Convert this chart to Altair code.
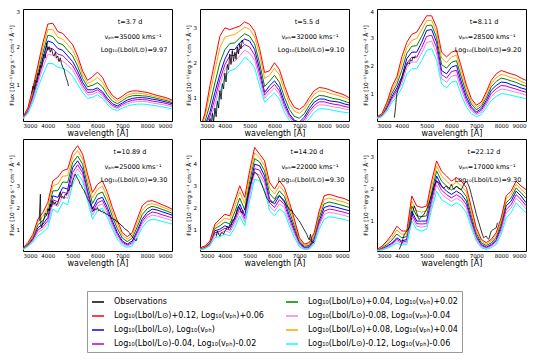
import altair as alt
import pandas as pd

WAVE = [3000, 3200, 3400, 3600, 3800, 4000, 4200, 4400, 4600, 4800, 5000, 5200, 5400, 5600, 5800,
        6000, 6200, 6400, 6600, 6800, 7000, 7200, 7400, 7600, 7800, 8000, 8200, 8400, 8600, 8800, 9000]

# ---- Panel 1: t=3.7 d
P1_BASE = [0.10,0.30,0.70,1.20,1.70,2.15,2.10,1.95,1.90,1.75,1.60,1.35,1.05,0.85,0.85,0.90,0.80,0.62,0.48,0.42,0.50,0.58,0.62,0.64,0.64,0.63,0.60,0.58,0.55,0.52,0.48]
P1_P04 = [0.11,0.33,0.77,1.30,1.83,2.30,2.27,2.10,2.05,1.90,1.75,1.48,1.15,0.93,0.97,1.04,0.93,0.71,0.55,0.48,0.56,0.65,0.69,0.70,0.69,0.68,0.65,0.62,0.59,0.56,0.51]
P1_P08 = [0.11,0.35,0.83,1.40,1.97,2.45,2.45,2.25,2.20,2.05,1.90,1.62,1.25,1.02,1.08,1.18,1.05,0.81,0.63,0.54,0.62,0.71,0.75,0.76,0.75,0.73,0.69,0.66,0.63,0.59,0.55]
P1_P12 = [0.12,0.38,0.90,1.50,2.10,2.60,2.62,2.40,2.35,2.20,2.05,1.75,1.35,1.10,1.20,1.32,1.18,0.90,0.70,0.60,0.68,0.78,0.82,0.82,0.80,0.78,0.74,0.70,0.67,0.63,0.58]
P1_M04 = [0.09,0.28,0.65,1.11,1.57,1.97,1.94,1.80,1.76,1.63,1.49,1.25,0.97,0.78,0.79,0.85,0.75,0.57,0.44,0.38,0.46,0.53,0.57,0.59,0.59,0.58,0.55,0.53,0.51,0.48,0.44]
P1_M08 = [0.09,0.25,0.59,1.02,1.43,1.79,1.77,1.65,1.61,1.51,1.37,1.14,0.89,0.71,0.73,0.79,0.69,0.52,0.40,0.35,0.42,0.48,0.52,0.54,0.54,0.53,0.50,0.48,0.46,0.43,0.40]
P1_M12 = [0.08,0.22,0.52,0.90,1.25,1.55,1.55,1.45,1.42,1.35,1.22,1.00,0.78,0.62,0.65,0.72,0.62,0.46,0.34,0.30,0.36,0.42,0.45,0.47,0.47,0.46,0.44,0.42,0.40,0.37,0.34]
OBS1_W = [3350,3400,3450,3500,3550,3600,3650,3700,3750,3800,3850,3900,3950,4000,4050,4100,4150,4200,4250,4300,4350,4400,4450,4500,4550,4600,4650,4700,4750,4800,4830]
OBS1_F = [0.75,0.95,0.85,1.10,1.05,1.30,1.25,1.50,1.45,1.65,1.80,1.70,2.10,1.90,2.00,1.85,1.95,1.80,1.75,1.85,1.70,1.75,1.60,1.70,1.55,1.45,1.40,1.25,1.15,1.05,0.95]

# ---- Panel 2: t=5.5 d
P2_BASE = [0.05,0.20,0.58,1.15,1.67,2.10,2.38,2.38,2.57,2.68,2.62,2.38,1.82,1.15,1.34,1.48,1.29,0.87,0.53,0.35,0.30,0.44,0.68,0.87,0.96,0.96,0.91,0.89,0.87,0.82,0.79]
P2_P04 = [0.07,0.31,0.81,1.42,2.00,2.37,2.55,2.57,2.71,2.83,2.76,2.54,1.99,1.32,1.47,1.64,1.44,1.01,0.66,0.46,0.41,0.54,0.78,0.97,1.06,1.05,1.01,0.97,0.95,0.90,0.85]
P2_P08 = [0.09,0.45,1.11,1.78,2.43,2.73,2.78,2.81,2.91,3.02,2.96,2.74,2.23,1.55,1.64,1.84,1.65,1.21,0.83,0.61,0.55,0.67,0.90,1.10,1.19,1.18,1.13,1.09,1.05,1.00,0.94]
P2_P12 = [0.10,0.55,1.34,2.05,2.76,3.00,2.95,3.00,3.05,3.17,3.10,2.90,2.40,1.72,1.77,2.00,1.80,1.35,0.96,0.72,0.66,0.77,1.00,1.20,1.29,1.27,1.23,1.17,1.13,1.08,1.00]
P2_M04 = [0.04,0.17,0.47,0.97,1.51,1.94,2.20,2.21,2.39,2.52,2.45,2.22,1.68,1.07,1.24,1.38,1.19,0.78,0.48,0.31,0.26,0.37,0.60,0.78,0.88,0.88,0.84,0.81,0.79,0.75,0.72]
P2_M08 = [0.03,0.14,0.35,0.79,1.36,1.79,2.01,2.04,2.20,2.36,2.28,2.07,1.53,0.98,1.14,1.27,1.09,0.70,0.42,0.26,0.21,0.31,0.51,0.70,0.79,0.79,0.76,0.73,0.71,0.68,0.65]
P2_M12 = [0.02,0.10,0.20,0.55,1.15,1.58,1.77,1.82,1.96,2.15,2.05,1.86,1.34,0.87,1.00,1.13,0.96,0.58,0.35,0.20,0.15,0.22,0.40,0.58,0.68,0.68,0.66,0.63,0.60,0.58,0.56]
OBS2_W = [3350,3400,3450,3500,3550,3600,3650,3700,3750,3800,3850,3900,3950,4000,4050,4100,4150,4200,4250,4300,4350,4400,4450,4500,4550,4600,4650,4700,4750]
OBS2_F = [0.15,0.40,0.20,0.55,0.30,0.70,0.45,0.90,0.70,1.20,0.95,1.40,1.25,1.70,1.45,1.95,1.80,2.25,1.95,2.35,2.05,2.30,2.10,2.45,2.25,2.55,2.40,2.65,2.55]

# ---- Panel 3: t=8.11 d
P3_BASE = [0.15,0.22,0.50,0.90,1.20,1.60,2.24,2.47,2.47,2.82,3.24,3.27,2.82,1.82,1.70,1.94,2.00,1.41,0.88,0.53,0.35,0.47,0.76,1.12,1.29,1.41,1.39,1.32,1.27,1.20,1.15]
P3_P04 = [0.16,0.24,0.57,1.01,1.33,1.83,2.43,2.68,2.70,3.03,3.41,3.43,2.99,2.03,1.90,2.11,2.17,1.58,1.02,0.63,0.43,0.55,0.86,1.24,1.43,1.55,1.51,1.45,1.40,1.32,1.26]
P3_P08 = [0.17,0.27,0.63,1.13,1.47,2.07,2.63,2.89,2.95,3.26,3.59,3.60,3.17,2.26,2.10,2.30,2.36,1.77,1.16,0.72,0.51,0.62,0.96,1.35,1.56,1.68,1.64,1.57,1.52,1.43,1.36]
P3_P12 = [0.18,0.29,0.70,1.24,1.60,2.30,2.82,3.10,3.18,3.47,3.76,3.76,3.35,2.47,2.30,2.47,2.53,1.94,1.30,0.82,0.59,0.70,1.06,1.47,1.70,1.82,1.76,1.70,1.65,1.55,1.47]
P3_M04 = [0.14,0.21,0.46,0.83,1.11,1.48,2.08,2.29,2.29,2.63,3.03,3.07,2.63,1.68,1.55,1.78,1.83,1.27,0.78,0.46,0.30,0.41,0.68,1.01,1.17,1.29,1.27,1.21,1.16,1.10,1.05]
P3_M08 = [0.13,0.20,0.43,0.77,1.02,1.36,1.92,2.12,2.12,2.44,2.81,2.86,2.44,1.54,1.40,1.62,1.66,1.13,0.67,0.39,0.25,0.34,0.60,0.90,1.06,1.16,1.14,1.09,1.05,1.00,0.95]
P3_M12 = [0.12,0.18,0.38,0.68,0.90,1.20,1.70,1.88,1.88,2.18,2.53,2.59,2.18,1.35,1.20,1.41,1.44,0.94,0.53,0.29,0.18,0.26,0.50,0.76,0.90,1.00,0.98,0.94,0.90,0.86,0.82]
OBS3_W = [3700,3725,3750,3775,3800,3850,3900,3950,4000,4050,4100,4150,4200,4250,4300,4350,4400,4450,4500,4550]
OBS3_F = [0.15,0.35,0.55,0.80,1.00,1.15,1.25,1.40,1.55,1.70,1.80,1.95,2.00,2.10,2.05,2.20,2.15,2.30,2.25,2.35]

# ---- Panel 4: t=10.89 d
P4_BASE = [0.15,0.32,0.60,1.10,1.25,1.55,2.53,2.46,2.90,2.83,3.80,4.10,3.73,2.75,1.93,2.38,2.46,2.00,1.40,0.88,0.50,0.36,0.50,0.96,1.48,1.78,1.93,1.89,1.81,1.74,1.66]
P4_P04 = [0.16,0.36,0.67,1.23,1.42,1.77,2.75,2.76,3.15,3.13,4.02,4.32,3.95,3.00,2.18,2.60,2.70,2.22,1.60,1.05,0.63,0.47,0.63,1.13,1.68,1.95,2.06,2.00,1.92,1.84,1.75]
P4_P08 = [0.17,0.39,0.73,1.35,1.60,2.01,2.98,3.06,3.41,3.43,4.26,4.56,4.18,3.25,2.43,2.83,2.96,2.46,1.80,1.23,0.75,0.58,0.75,1.31,1.88,2.12,2.18,2.12,2.02,1.94,1.84]
P4_P12 = [0.18,0.43,0.80,1.48,1.78,2.23,3.20,3.36,3.66,3.73,4.48,4.78,4.40,3.50,2.68,3.05,3.20,2.68,2.00,1.40,0.88,0.69,0.88,1.48,2.08,2.28,2.31,2.23,2.13,2.04,1.93]
P4_M04 = [0.14,0.30,0.56,0.99,1.14,1.42,2.35,2.26,2.70,2.62,3.58,3.92,3.57,2.62,1.80,2.22,2.32,1.87,1.29,0.79,0.44,0.32,0.43,0.87,1.37,1.66,1.80,1.76,1.68,1.61,1.54]
P4_M08 = [0.13,0.28,0.51,0.88,1.03,1.28,2.17,2.05,2.50,2.41,3.35,3.74,3.41,2.48,1.66,2.07,2.17,1.73,1.18,0.70,0.39,0.27,0.37,0.78,1.25,1.54,1.66,1.62,1.55,1.49,1.42]
P4_M12 = [0.12,0.25,0.45,0.73,0.88,1.10,1.93,1.78,2.23,2.13,3.05,3.50,3.20,2.30,1.48,1.86,1.98,1.55,1.03,0.58,0.31,0.21,0.28,0.66,1.10,1.38,1.48,1.44,1.38,1.32,1.26]
OBS4_W = [3650,3700,3720,3750,3800,3850,3900,3950,4000,4050,4100,4150,4200,4250,4300,4350,4400,4450,4500,4550,4600,4650,4700,4750,4800,4850,4900,4950,5000,5050,5100,5150,5200,5250,5300,5350,5400,5450,5500,5550,5600,5650,5700,5750,5800,5850,5900,5950,6000,6050,6100,6150,6200,6250,6300,6350,6400,6450,6500,6550,6600,6650,6700,6750,6800,6850,6900,6950,7000,7050,7100,7150,7200,7250,7300,7350,7400,7450,7500,7550,7600]
OBS4_F = [1.40,2.60,1.20,1.10,1.35,1.50,1.75,1.65,1.95,1.85,2.15,2.05,2.30,2.15,2.25,2.10,2.20,2.40,2.70,2.45,2.50,2.40,2.60,2.55,2.80,2.75,3.00,2.95,3.20,3.35,3.50,3.40,3.30,3.20,3.05,3.00,2.85,2.80,2.65,2.55,2.40,2.30,2.20,2.05,2.00,1.85,1.95,1.90,2.00,1.85,1.90,1.80,1.85,1.75,1.78,1.70,1.72,1.62,1.65,1.55,1.52,1.45,1.48,1.38,1.40,1.30,1.28,1.20,1.18,1.10,1.05,1.00,0.98,0.90,0.85,0.75,0.70,0.60,0.58,0.50,0.62]

# ---- Panel 5: t=14.20 d
P5_BASE = [0.13,0.20,0.38,0.96,1.03,1.18,1.10,1.56,2.16,1.63,2.90,3.95,3.88,3.43,2.38,2.16,2.53,2.30,1.63,1.03,0.43,0.21,0.24,0.58,1.40,2.00,2.08,2.04,1.98,1.92,1.86]
P5_P04 = [0.15,0.23,0.42,1.06,1.18,1.35,1.27,1.80,2.43,1.90,3.15,4.20,4.05,3.65,2.63,2.38,2.75,2.50,1.83,1.18,0.51,0.26,0.30,0.68,1.55,2.17,2.25,2.20,2.14,2.08,2.01]
P5_P08 = [0.16,0.25,0.46,1.16,1.33,1.53,1.46,2.06,2.71,2.19,3.41,4.45,4.23,3.88,2.88,2.61,2.98,2.70,2.03,1.33,0.58,0.31,0.37,0.78,1.70,2.36,2.43,2.37,2.30,2.25,2.15]
P5_P12 = [0.18,0.28,0.50,1.26,1.48,1.70,1.63,2.30,2.98,2.46,3.66,4.70,4.40,4.10,3.13,2.83,3.20,2.90,2.23,1.48,0.66,0.36,0.43,0.88,1.85,2.53,2.60,2.53,2.46,2.41,2.30]
P5_M04 = [0.12,0.19,0.35,0.87,0.93,1.07,0.99,1.42,2.00,1.50,2.72,3.75,3.68,3.25,2.22,2.00,2.35,2.14,1.50,0.92,0.37,0.18,0.21,0.51,1.29,1.84,1.93,1.90,1.84,1.79,1.72]
P5_M08 = [0.11,0.17,0.32,0.78,0.83,0.96,0.88,1.28,1.84,1.36,2.54,3.55,3.47,3.07,2.06,1.84,2.17,1.99,1.36,0.81,0.32,0.16,0.17,0.45,1.18,1.69,1.79,1.75,1.70,1.65,1.58]
P5_M12 = [0.10,0.15,0.28,0.66,0.69,0.81,0.73,1.10,1.63,1.18,2.30,3.28,3.20,2.83,1.85,1.63,1.93,1.78,1.18,0.66,0.24,0.12,0.13,0.36,1.03,1.48,1.59,1.56,1.51,1.47,1.40]
OBS5_W = [3650,3700,3750,3800,3850,3900,3950,4000,4050,4100,4150,4200,4250,4300,4350,4400,4450,4500,4550,4600,4650,4700,4750,4800,4850,4900,4950,5000,5050,5100,5150,5200,5250,5300,5350,5400,5450,5500,5550,5600,5650,5700,5750,5800,5850,5900,5950,6000,6050,6100,6150,6200,6250,6300,6350,6400,6450,6500,6550,6600,6650,6700,6750,6800,6850,6900,6950,7000,7050,7100,7150,7200,7250,7300,7350,7400,7450,7500,7550,7600]
OBS5_F = [0.70,0.95,0.80,0.72,0.85,0.88,0.80,0.95,1.00,1.15,1.05,1.25,1.20,1.45,1.40,1.55,1.70,1.95,2.05,1.95,1.80,1.75,1.85,1.90,2.10,2.40,2.65,2.90,3.10,3.30,3.45,3.60,3.55,3.50,3.40,3.30,3.15,3.00,2.85,2.70,2.55,2.40,2.35,2.25,2.30,2.20,2.25,2.30,2.40,2.45,2.50,2.55,2.45,2.40,2.30,2.25,2.15,2.10,2.00,1.95,1.85,1.90,1.75,1.70,1.60,1.55,1.45,1.40,1.30,1.20,1.10,1.00,0.90,0.80,0.65,0.55,0.80,0.45,0.40,0.48]

# ---- Panel 6: t=22.12 d
P6_BASE = [0.07,0.12,0.20,0.30,0.46,0.36,0.41,1.29,0.98,0.98,0.98,1.70,2.38,2.07,1.91,1.81,1.91,1.81,1.60,1.03,0.51,0.25,0.17,0.25,0.41,0.82,1.45,1.60,1.91,1.76,1.55]
P6_P04 = [0.08,0.15,0.25,0.39,0.58,0.46,0.50,1.45,1.14,1.12,1.14,1.87,2.54,2.22,2.07,1.95,2.05,1.95,1.74,1.15,0.60,0.30,0.22,0.30,0.48,0.91,1.55,1.70,2.01,1.86,1.69]
P6_P08 = [0.09,0.17,0.31,0.47,0.70,0.57,0.58,1.60,1.29,1.26,1.29,2.05,2.69,2.38,2.22,2.08,2.19,2.08,1.88,1.28,0.68,0.36,0.26,0.36,0.55,0.99,1.66,1.81,2.12,1.97,1.82]
P6_P12 = [0.10,0.20,0.36,0.56,0.82,0.67,0.67,1.76,1.45,1.40,1.45,2.22,2.85,2.53,2.38,2.22,2.33,2.22,2.02,1.40,0.77,0.41,0.31,0.41,0.62,1.08,1.76,1.91,2.22,2.07,1.96]
P6_M04 = [0.06,0.11,0.18,0.27,0.41,0.32,0.36,1.20,0.90,0.89,0.90,1.59,2.24,1.94,1.80,1.70,1.80,1.70,1.49,0.95,0.47,0.22,0.15,0.22,0.36,0.74,1.34,1.49,1.80,1.65,1.46]
P6_M08 = [0.06,0.10,0.16,0.24,0.36,0.28,0.31,1.10,0.82,0.79,0.82,1.48,2.10,1.82,1.69,1.59,1.69,1.59,1.38,0.87,0.42,0.19,0.13,0.19,0.31,0.66,1.23,1.38,1.69,1.54,1.36]
P6_M12 = [0.05,0.08,0.13,0.20,0.30,0.23,0.25,0.98,0.72,0.67,0.72,1.34,1.91,1.65,1.55,1.45,1.55,1.45,1.24,0.77,0.36,0.15,0.10,0.15,0.25,0.56,1.08,1.24,1.55,1.39,1.24]
OBS6_W = [3900,3950,4000,4050,4100,4150,4200,4250,4300,4350,4400,4450,4500,4550,4600,4650,4700,4750,4800,4850,4900,4950,5000,5050,5100,5150,5200,5250,5300,5350,5400,5450,5500,5550,5600,5650,5700,5750,5800,5850,5900,5950,6000,6050,6100,6150,6200,6250,6300,6350,6400,6450,6500,6550,6600,6650,6700,6750,6800,6850,6900,6950,7000,7050,7100,7150,7200,7250,7300,7350,7400,7450,7500,7550,7600,7650,7700,7750,7800,7850]
OBS6_F = [0.10,0.20,0.30,0.45,0.56,0.62,0.67,0.72,0.77,0.90,1.08,1.30,1.45,1.35,1.24,1.10,1.03,1.08,1.13,1.15,1.20,1.28,1.34,1.45,1.55,1.68,1.80,1.95,2.07,2.15,2.22,2.20,2.17,2.10,2.07,2.02,2.00,2.05,2.07,2.00,1.96,2.05,2.12,2.02,1.96,2.02,2.07,2.03,2.00,1.97,1.96,2.05,2.12,2.18,2.22,2.15,2.07,1.95,1.80,1.65,1.50,1.35,1.19,1.05,0.93,0.80,0.67,0.55,0.46,0.50,0.51,0.45,0.41,0.55,0.67,0.70,0.72,0.75,0.77,0.93]

TIMES = ["t=3.7 d", "t=5.5 d", "t=8.11 d", "t=10.89 d", "t=14.20 d", "t=22.12 d"]
VPH = [35000, 32000, 28500, 25000, 22000, 17000]
LBOL = ["9.97", "9.10", "9.20", "9.30", "9.30", "9.30"]
YDOM = [[0.02, 3.0], [0.33, 3.54], [0.03, 4.0], [0.05, 5.08], [0.05, 5.08], [0.05, 3.53]]
YTICKS = [[1, 2, 3], [1, 2, 3], [1, 2, 3, 4], [1, 2, 3, 4], [1, 2, 3, 4], [1, 2, 3]]
XTICKS = [3000, 4000, 5000, 6000, 7000, 8000, 9000]

LOGL = "Log\u2081\u2080(Lbol/L\u2299)"
LOGV = "Log\u2081\u2080(v\u209a\u2095)"
L_OBS = "Observations"
L_BASE = LOGL + ", " + LOGV
L_P04 = LOGL + "+0.04, " + LOGV + "+0.02"
L_P08 = LOGL + "+0.08, " + LOGV + "+0.04"
L_P12 = LOGL + "+0.12, " + LOGV + "+0.06"
L_M04 = LOGL + "-0.04, " + LOGV + "-0.02"
L_M08 = LOGL + "-0.08, " + LOGV + "-0.04"
L_M12 = LOGL + "-0.12, " + LOGV + "-0.06"

LEG_ORDER = [L_OBS, L_P12, L_BASE, L_M04, L_P04, L_M08, L_P08, L_M12]
LEG_COLORS = ["#000000", "#ff0000", "#0000ff", "#bf00bf", "#008000", "#ee82ee", "#ffa500", "#00ffff"]

MODELS = {
    1: [P1_BASE, P1_P04, P1_P08, P1_P12, P1_M04, P1_M08, P1_M12],
    2: [P2_BASE, P2_P04, P2_P08, P2_P12, P2_M04, P2_M08, P2_M12],
    3: [P3_BASE, P3_P04, P3_P08, P3_P12, P3_M04, P3_M08, P3_M12],
    4: [P4_BASE, P4_P04, P4_P08, P4_P12, P4_M04, P4_M08, P4_M12],
    5: [P5_BASE, P5_P04, P5_P08, P5_P12, P5_M04, P5_M08, P5_M12],
    6: [P6_BASE, P6_P04, P6_P08, P6_P12, P6_M04, P6_M08, P6_M12],
}
MODEL_LABELS = [L_BASE, L_P04, L_P08, L_P12, L_M04, L_M08, L_M12]
OBS = {1: (OBS1_W, OBS1_F), 2: (OBS2_W, OBS2_F), 3: (OBS3_W, OBS3_F),
       4: (OBS4_W, OBS4_F), 5: (OBS5_W, OBS5_F), 6: (OBS6_W, OBS6_F)}

FONT = "DejaVu Sans"
YTITLE = "Flux [10\u207b\u00b9\u2077erg s\u207b\u00b9 cm\u207b\u00b2 \u00c5\u207b\u00b9]"
W, H = 149, 112

color_scale = alt.Scale(domain=LEG_ORDER, range=LEG_COLORS)
legend = alt.Legend(
    title=None, orient="none", legendX=64, legendY=282, columns=2,
    symbolType="stroke", symbolSize=144, symbolStrokeWidth=1.5,
    labelFont=FONT, labelFontSize=8, labelOffset=9, labelLimit=400,
    rowPadding=3, columnPadding=19, padding=4,
    strokeColor="#999999", fillColor="white",
)


def panel(p):
    rows = []
    for lab, arr in zip(MODEL_LABELS, MODELS[p]):
        for w, f in zip(WAVE, arr):
            rows.append({"w": w, "f": f, "m": lab})
    mdf = pd.DataFrame(rows)
    ow, of = OBS[p]
    odf = pd.DataFrame({"w": ow, "f": of, "m": L_OBS})
    xenc = alt.X("w:Q", scale=alt.Scale(domain=[3000, 9000], nice=False, zero=False),
                 axis=alt.Axis(values=XTICKS, format="d", title="wavelength [\u00c5]"))
    yenc = alt.Y("f:Q", scale=alt.Scale(domain=YDOM[p - 1], nice=False, zero=False),
                 axis=alt.Axis(values=YTICKS[p - 1], format="d", title=YTITLE, labelFlush=True))
    cenc = alt.Color("m:N", scale=color_scale, legend=legend)
    models = alt.Chart(mdf).mark_line(strokeWidth=1, clip=True).encode(x=xenc, y=yenc, color=cenc)
    obs = alt.Chart(odf).mark_line(strokeWidth=0.8, clip=True).encode(x=xenc, y=yenc, color=cenc)
    texts = [
        (TIMES[p - 1], 107, 13),
        ("v\u209a\u2095=%d kms\u207b\u00b9" % VPH[p - 1], 110, 28),
        (LOGL + "=" + LBOL[p - 1], 111, 41),
    ]
    layers = [models, obs]
    for t, tx, ty in texts:
        layers.append(
            alt.Chart(pd.DataFrame({"t": [t]})).mark_text(font=FONT, fontSize=6.5, color="black")
            .encode(text="t:N", x=alt.value(tx), y=alt.value(ty))
        )
    return alt.layer(*layers).properties(width=W, height=H)


chart = (
    alt.concat(*[panel(p) for p in range(1, 7)], columns=3,
               spacing={"row": 18, "column": 28}, bounds="flush")
    .resolve_scale(x="independent", y="independent", color="shared")
    .properties(padding=0, background="white")
    .configure_view(stroke="black", strokeWidth=1)
    .configure_axis(
        labelFont=FONT, titleFont=FONT, labelFontSize=5.5, titleFontWeight="normal",
        domain=False, ticks=False, grid=False, labelColor="black", titleColor="black",
    )
    .configure_axisX(labelPadding=2, titlePadding=1, titleFontSize=8)
    .configure_axisY(labelPadding=3.5, titlePadding=1.5, titleFontSize=5.8)
)

chart.save("out.html", embed_options={"renderer": "svg", "actions": False})
